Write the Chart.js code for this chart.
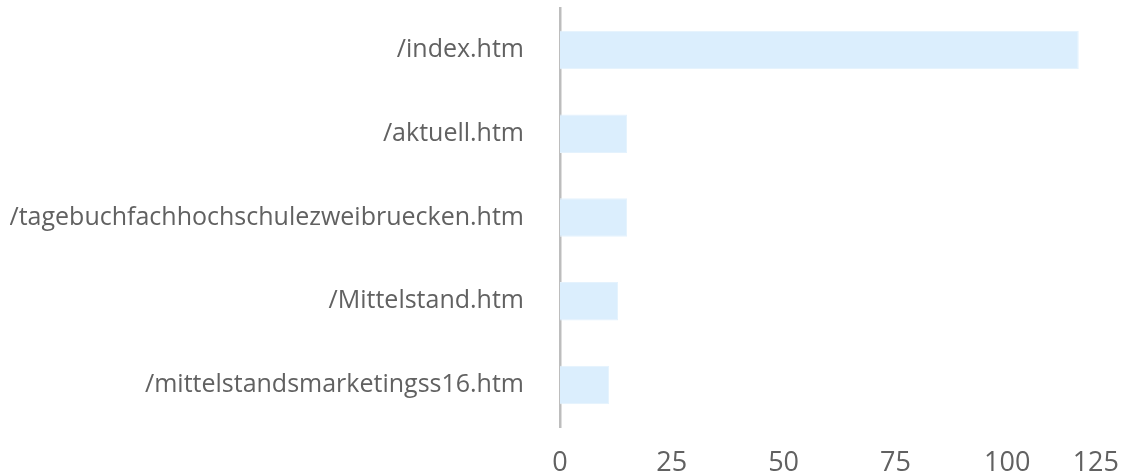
<!DOCTYPE html>
<html>
<head>
<meta charset="utf-8">
<script src="https://cdn.jsdelivr.net/npm/chart.js@4/dist/chart.umd.min.js"></script>
<style>
    html, body { margin: 0; padding: 0; background: #fff; }
    #wrap { width: 1122px; height: 475px; }
</style>
</head>
<body>
<div id="wrap"><canvas id="chart"></canvas></div>
<script>
// Seiten mit den meisten Aufrufen, als liegende Balken.
const pages = [
    '/index.htm',
    '/aktuell.htm',
    '/tagebuchfachhochschulezweibruecken.htm',
    '/Mittelstand.htm',
    '/mittelstandsmarketingss16.htm',
];
const views = [116, 15, 15, 13, 11];
const xTicks = [0, 25, 50, 75, 100, 125];

const textColor = '#616161';

// Letztes Tick-Label rechtsbündig an den Rand, die übrigen zentriert.
const lastTickInside = {
    id: 'lastTickInside',
    beforeDraw(chart) {
        const items = chart.scales.x.getLabelItems();
        if (items.length) items[items.length - 1].options.textAlign = 'right';
    },
};

new Chart(document.getElementById('chart'), {
    type: 'bar',
    data: {
        labels: pages,
        datasets: [{
            data: views,
            backgroundColor: '#dbeefd',
            borderColor: '#e4f2fd',
            borderWidth: 1,
            borderSkipped: 'left',
            barPercentage: 0.46,
            categoryPercentage: 1,
        }],
    },
    options: {
        indexAxis: 'y',
        responsive: true,
        maintainAspectRatio: false,
        animation: false,
        layout: { padding: { left: 10, right: 3, top: 8, bottom: 0 } },
        plugins: {
            legend: { display: false },
            tooltip: { enabled: false },
        },
        scales: {
            x: {
                min: xTicks[0],
                max: xTicks[xTicks.length - 1],
                grid: { display: false, drawTicks: false },
                border: { display: false },
                afterBuildTicks: (scale) => { scale.ticks = xTicks.map((v) => ({ value: v })); },
                afterFit: (scale) => {
                    scale.height = 48;
                    scale.paddingRight = 0;
                    scale.paddingBottom = 0;
                },
                ticks: {
                    color: textColor,
                    padding: 23,
                    font: { family: "'Open Sans', sans-serif", size: 27, lineHeight: 0.96 },
                },
            },
            y: {
                grid: { display: false, drawTicks: false },
                border: { display: true, color: '#bdbdbd', width: 2.5 },
                afterFit: (scale) => {
                    scale.width = 550;
                    scale.paddingTop = 0;
                    scale.paddingBottom = 0;
                },
                ticks: {
                    color: textColor,
                    padding: 36,
                    font: { family: "'Open Sans', sans-serif", size: 25 },
                },
            },
        },
    },
    plugins: [lastTickInside],
});
</script>
</body>
</html>
